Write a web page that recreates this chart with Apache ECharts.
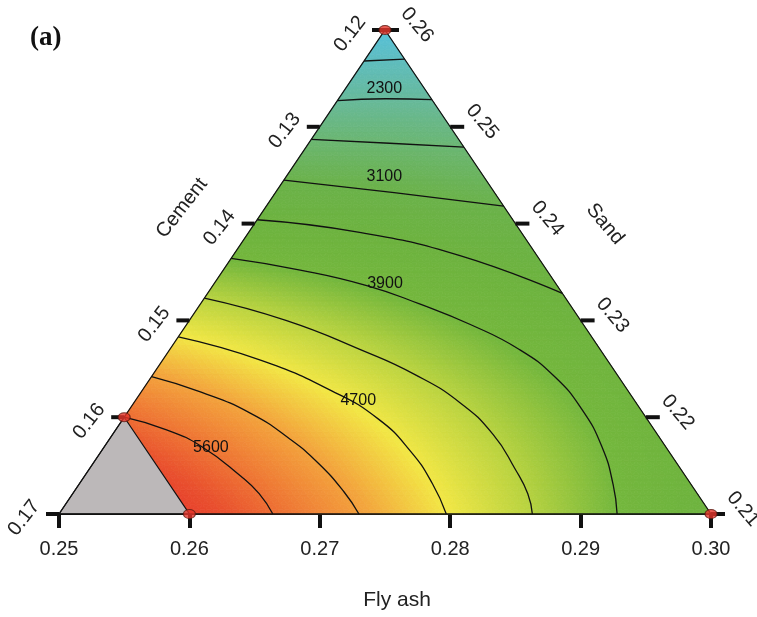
<!DOCTYPE html>
<html>
<head>
<meta charset="utf-8">
<script src="https://cdn.jsdelivr.net/npm/echarts@6/dist/echarts.min.js"></script>
<style>
  html, body { margin: 0; padding: 0; background: #fff; }
  #chart { width: 757px; height: 617px; }
</style>
</head>
<body>
<div id="chart"></div>
<script>
// mixture space: cement 0.12-0.17, fly ash 0.25-0.30, sand 0.21-0.26 (sum = 0.63)
const flyAshTicks = [0.25, 0.26, 0.27, 0.28, 0.29, 0.30];
const cementTicks = [0.12, 0.13, 0.14, 0.15, 0.16, 0.17];
const sandTicks = [0.26, 0.25, 0.24, 0.23, 0.22, 0.21];

// contour lines, each point is [fly ash, cement]
const levels = [1900, 2300, 2700, 3100, 3500, 3900, 4300, 4700, 5150, 5600];
const line1900 = [[0.25, 0.1232], [0.2530, 0.12]];
const line2300 = [[0.25, 0.1273], [0.2536, 0.1235], [0.2572, 0.12]];
const line2700 = [[0.25, 0.1313], [0.2562, 0.1255], [0.2621, 0.12]];
const line3100 = [[0.25, 0.1355], [0.2591, 0.1277], [0.2682, 0.12]];
const line3500 = [[0.25, 0.1396], [0.2585, 0.1324], [0.2674, 0.1259], [0.2772, 0.12]];
const line3900 = [[0.25, 0.1436], [0.2559, 0.1389], [0.2618, 0.1346], [0.2668, 0.1315], [0.2717, 0.1287],
                  [0.2768, 0.1262], [0.2809, 0.1249], [0.2847, 0.1245], [0.2882, 0.1249], [0.2910, 0.1260],
                  [0.2928, 0.1272]];
const line4300 = [[0.25, 0.1477], [0.2574, 0.1426], [0.2648, 0.1383], [0.2701, 0.1355], [0.2750, 0.1335],
                  [0.2792, 0.1326], [0.2827, 0.1327], [0.2849, 0.1330], [0.2863, 0.1337]];
const line4700 = [[0.25, 0.1517], [0.2575, 0.1466], [0.2646, 0.1427], [0.2696, 0.1406], [0.2737, 0.1398],
                  [0.2771, 0.1398], [0.2797, 0.1403]];
const line5150 = [[0.25, 0.1558], [0.2546, 0.1528], [0.2595, 0.1501], [0.2639, 0.1484], [0.2672, 0.1475],
                  [0.2707, 0.1470], [0.2730, 0.1470]];
const line5600 = [[0.25, 0.16], [0.2539, 0.1574], [0.2574, 0.1556], [0.2620, 0.1541], [0.2643, 0.1536],
                  [0.2664, 0.1536]];
const contourPaths = [line1900, line2300, line2700, line3100, line3500, line3900, line4300, line4700, line5150, line5600];

// contour labels: text and [fly ash, cement] position
const labelTexts = ['2300', '3100', '3900', '4700', '5600'];
const labelPos = [[0.2530, 0.1231], [0.2575, 0.1276], [0.2631, 0.1331], [0.2671, 0.1412], [0.2582, 0.1549]];

// design points (red dots) and the excluded region (cement > 0.16)
const designPoints = [[0.25, 0.12], [0.25, 0.16], [0.26, 0.16], [0.30, 0.12]];
const excluded = [[0.25, 0.17], [0.25, 0.16], [0.26, 0.16]];
const corners = [[0.25, 0.12], [0.30, 0.12], [0.25, 0.17]];

const FONT = '"Liberation Sans", Arial, sans-serif';
const N = 100;

function toXY(f, c) {
  const s = 0.63 - f - c;
  return [f + 0.5 * (s - 0.21), s];
}
function toBT(f, c) {
  const s = 0.63 - f - c;
  return [(f - 0.25) / 0.05, (s - 0.21) / 0.05];
}
function terms(b, t) {
  return [1, b, t, b * b, b * t, t * t, b * b * b, b * b * t, b * t * t, t * t * t];
}

function solve(A, y) {
  const n = y.length;
  for (let k = 0; k < n; k++) {
    let p = k;
    for (let r = k + 1; r < n; r++) if (Math.abs(A[r][k]) > Math.abs(A[p][k])) p = r;
    [A[k], A[p]] = [A[p], A[k]];
    [y[k], y[p]] = [y[p], y[k]];
    for (let r = k + 1; r < n; r++) {
      const m = A[r][k] / A[k][k];
      for (let c = k; c < n; c++) A[r][c] -= m * A[k][c];
      y[r] -= m * y[k];
    }
  }
  const x = new Array(n).fill(0);
  for (let k = n - 1; k >= 0; k--) {
    let s = y[k];
    for (let c = k + 1; c < n; c++) s -= A[k][c] * x[c];
    x[k] = s / A[k][k];
  }
  return x;
}

// least squares surface through the contour lines, used for the colour fill
function fitSurface() {
  const n = 10;
  const A = Array.from({length: n}, () => new Array(n).fill(0));
  const y = new Array(n).fill(0);
  contourPaths.forEach((path, k) => {
    for (let s = 0; s < path.length - 1; s++) {
      for (let u = 0; u < 4; u++) {
        const w = u / 4;
        const f = path[s][0] + (path[s + 1][0] - path[s][0]) * w;
        const c = path[s][1] + (path[s + 1][1] - path[s][1]) * w;
        const [b, t] = toBT(f, c);
        const r = terms(b, t);
        for (let i = 0; i < n; i++) {
          y[i] += r[i] * levels[k];
          for (let j = 0; j < n; j++) A[i][j] += r[i] * r[j];
        }
      }
    }
  });
  for (let i = 0; i < n; i++) A[i][i] += 1e-6;
  return solve(A, y);
}

const coef = fitSurface();
const surface = (b, t) => terms(b, t).reduce((acc, v, i) => acc + v * coef[i], 0);

const btXY = (b, t) => [0.25 + 0.05 * b + 0.025 * t, 0.21 + 0.05 * t];

const cells = [];
for (let i = 0; i < N; i++) {
  for (let j = 0; j < N - i; j++) {
    if (i + j >= 0.2 * N) cells.push([i, j, 1, surface((i + 1 / 3) / N, (j + 1 / 3) / N)]);
    if (i + j <= N - 2 && i + j + 1 >= 0.2 * N) cells.push([i, j, 0, surface((i + 2 / 3) / N, (j + 2 / 3) / N)]);
  }
}

const chart = echarts.init(document.getElementById('chart'));

const lineSeries = contourPaths.map((path, k) => ({
  type: 'line',
  name: String(levels[k]),
  data: path.map(p => toXY(p[0], p[1])),
  showSymbol: false,
  smooth: 0.5,
  clip: false,
  silent: true,
  z: 3,
  lineStyle: {color: '#111', width: 1.3}
}));

chart.setOption({
  animation: false,
  title: {
    text: '(a)', left: 25, top: 20,
    textStyle: {fontFamily: '"Liberation Serif", "Times New Roman", serif', fontWeight: 'bold', fontSize: 27, color: '#111'}
  },
  grid: {left: 59, right: 46, top: 30, bottom: 103},
  xAxis: {
    type: 'value', min: 0.25, max: 0.30, interval: 0.01,
    name: 'Fly ash', nameLocation: 'middle', nameGap: 76,
    nameTextStyle: {fontFamily: FONT, fontSize: 21, color: '#222', padding: [0, 0, 0, 24]},
    axisLine: {show: true, lineStyle: {color: '#111', width: 1.2}},
    axisTick: {show: true, length: 14, lineStyle: {color: '#111', width: 4}},
    axisLabel: {margin: 25, fontFamily: FONT, fontSize: 20, color: '#222', formatter: v => v.toFixed(2)},
    splitLine: {show: false}
  },
  yAxis: {type: 'value', min: 0.21, max: 0.26, show: false},
  visualMap: {
    type: 'continuous', show: false, seriesIndex: 0, dimension: 3,
    min: 1500, max: 6300,
    inRange: {
      color: ['#55c3e3', '#5ebdc0', '#67b99a', '#6bb671', '#6bb24a', '#6db33f', '#74b73d',
              '#b9d340', '#f2e745', '#f3a63d', '#ef7a35', '#e9502e', '#e5332a']
    }
  },
  graphic: [
    {type: 'text', x: 182, y: 208, rotation: 0.91,
     style: {text: 'Cement', font: '20px ' + FONT, fill: '#222', align: 'center', verticalAlign: 'middle',
             textAlign: 'center', textVerticalAlign: 'middle'}},
    {type: 'text', x: 605, y: 224, rotation: -0.87,
     style: {text: 'Sand', font: '20px ' + FONT, fill: '#222', align: 'center', verticalAlign: 'middle',
             textAlign: 'center', textVerticalAlign: 'middle'}}
  ],
  series: [
    {
      type: 'custom',
      data: cells,
      progressive: 0,
      silent: true,
      z: 1,
      renderItem(params, api) {
        const i = api.value(0), j = api.value(1), up = api.value(2);
        const verts = up ? [[i, j], [i + 1, j], [i, j + 1]] : [[i + 1, j], [i + 1, j + 1], [i, j + 1]];
        const pts = verts.map(v => api.coord(btXY(v[0] / N, v[1] / N)));
        const color = api.visual('color');
        return {type: 'polygon', shape: {points: pts}, style: {fill: color, stroke: color, lineWidth: 0.8}};
      }
    },
    {
      type: 'custom',
      data: [[0, 0]],
      silent: true,
      z: 2,
      renderItem(params, api) {
        return {
          type: 'polygon',
          shape: {points: excluded.map(p => api.coord(toXY(p[0], p[1])))},
          style: {fill: '#bcb8b9', stroke: '#111', lineWidth: 1.2}
        };
      }
    },
    ...lineSeries,
    {
      type: 'custom',
      data: [[0, 0]],
      silent: true,
      z: 4,
      renderItem(params, api) {
        return {
          type: 'polygon',
          shape: {points: corners.map(p => api.coord(toXY(p[0], p[1])))},
          style: {fill: 'none', stroke: '#111', lineWidth: 1.3}
        };
      }
    },
    {
      // cement ticks on the left edge
      type: 'custom',
      data: cementTicks.map(c => [c, 0]),
      silent: true,
      z: 4,
      renderItem(params, api) {
        const c = api.value(0);
        const p = api.coord(toXY(0.25, c));
        return {
          type: 'group',
          children: [
            {type: 'rect', shape: {x: p[0] - 13, y: p[1] - 2, width: 13, height: 4}, style: {fill: '#111'}},
            {type: 'text', x: p[0] - 35, y: p[1] + 4, rotation: 0.91,
             style: {text: c.toFixed(2), font: '20px ' + FONT, fill: '#222', align: 'center', verticalAlign: 'middle',
                     textAlign: 'center', textVerticalAlign: 'middle'}}
          ]
        };
      }
    },
    {
      // sand ticks on the right edge
      type: 'custom',
      data: sandTicks.map(s => [s, 0]),
      silent: true,
      z: 4,
      renderItem(params, api) {
        const s = api.value(0);
        const p = api.coord(toXY(0.63 - 0.12 - s, 0.12));
        return {
          type: 'group',
          children: [
            {type: 'rect', shape: {x: p[0], y: p[1] - 2, width: 14, height: 4}, style: {fill: '#111'}},
            {type: 'text', x: p[0] + 32, y: p[1] - 5, rotation: -0.87,
             style: {text: s.toFixed(2), font: '20px ' + FONT, fill: '#222', align: 'center', verticalAlign: 'middle',
                     textAlign: 'center', textVerticalAlign: 'middle'}}
          ]
        };
      }
    },
    {
      type: 'scatter',
      data: labelPos.map((p, k) => ({name: labelTexts[k], value: toXY(p[0], p[1])})),
      symbolSize: 0,
      clip: false,
      silent: true,
      z: 5,
      label: {show: true, position: 'inside', formatter: '{b}', fontFamily: FONT, fontSize: 16,
              color: '#111', textBorderWidth: 0, opacity: 1}
    },
    {
      type: 'scatter',
      data: designPoints.map(p => toXY(p[0], p[1])),
      symbol: 'circle',
      symbolSize: [12, 9],
      clip: false,
      silent: true,
      z: 6,
      itemStyle: {color: '#e5352a', borderColor: '#5a1a12', borderWidth: 1}
    }
  ]
});
</script>
</body>
</html>
